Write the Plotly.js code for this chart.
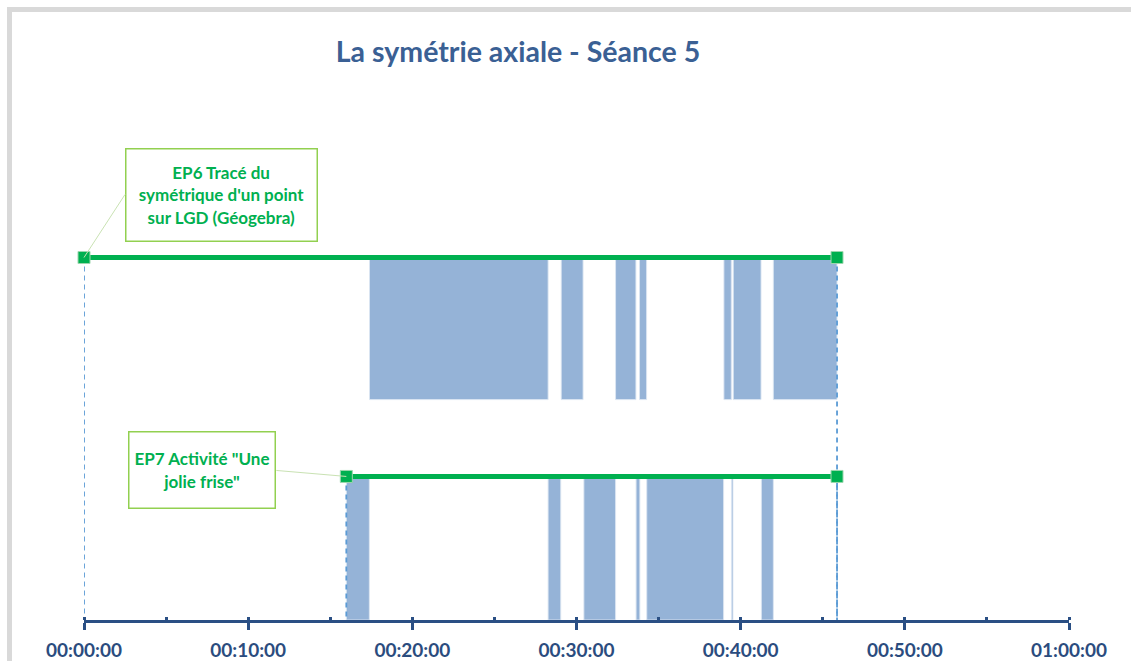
<!DOCTYPE html>
<html>
<head>
<meta charset="utf-8">
<script src="https://cdn.plot.ly/plotly-3.0.1.min.js"></script>
<style>
  html, body { margin: 0; padding: 0; background: #ffffff; }
  #chart { width: 1131px; height: 661px; }
  #frame { position: absolute; left: 7px; top: 7px; width: 1140px; height: 700px;
           border-top: 5px solid #D9D9D9; border-left: 5px solid #D9D9D9; pointer-events: none; }
</style>
</head>
<body>
<div id="chart"></div>
<div id="frame"></div>
<script>
// Times in minutes from session start
const ep6Label = "EP6 Tracé du<br>symétrique d'un point<br>sur LGD (Géogebra)";
const ep7Label = "EP7 Activité \"Une<br>jolie frise\"";
const ep6Span = [0, 45.87];
const ep7Span = [15.98, 45.87];
const ep6Start = [17.39, 29.07, 32.38, 33.84, 38.98, 39.55, 41.99];
const ep6End   = [28.27, 30.40, 33.62, 34.27, 39.43, 41.24, 45.87];
const ep7Start = [15.98, 28.27, 30.45, 33.63, 34.28, 39.44, 41.26];
const ep7End   = [17.38, 29.04, 32.38, 33.86, 38.96, 39.53, 41.99];
const tickVals = [0, 10, 20, 30, 40, 50, 60];
const tickText = ["00:00:00", "00:10:00", "00:20:00", "00:30:00", "00:40:00", "00:50:00", "01:00:00"];

// row geometry (y units)
const row6 = {bottom: 1.52, top: 2.5};
const row7 = {bottom: 0, top: 0.99};

const barFill = '#95B3D7';
const green = '#00B050';
const dashBlue = '#5B9BD5';
const navy = '#2A4F84';

function barTrace(starts, ends, row) {
  const n = starts.length;
  return {
    type: 'bar', orientation: 'h',
    base: starts,
    x: starts.map((s, i) => ends[i] - s),
    y: Array(n).fill((row.bottom + row.top) / 2),
    width: Array(n).fill(row.top - row.bottom),
    marker: {color: barFill, line: {color: 'rgba(220,230,242,0.9)', width: 1}},
    hoverinfo: 'skip', showlegend: false
  };
}
function dashTrace(span, row) {
  return {
    type: 'scatter', mode: 'lines', cliponaxis: false,
    x: [span[0], span[0], null, span[1], span[1]],
    y: [row.top, 0, null, row.top, 0],
    line: {color: dashBlue, width: 1.8, dash: '5px,4px'},
    hoverinfo: 'skip', showlegend: false
  };
}
function spanTrace(span, row) {
  return {
    type: 'scatter', mode: 'lines+markers', cliponaxis: false,
    x: span, y: [row.top, row.top],
    line: {color: green, width: 5},
    marker: {symbol: 'square', size: 12, color: green, line: {color: '#9DD6AE', width: 1}},
    hoverinfo: 'skip', showlegend: false
  };
}

const data = [
  barTrace(ep6Start, ep6End, row6),
  barTrace(ep7Start, ep7End, row7),
  dashTrace(ep6Span, row6),
  dashTrace(ep7Span, row7),
  spanTrace(ep6Span, row6),
  spanTrace(ep7Span, row7)
];

const fontFam = 'Lato, "Open Sans", sans-serif';

const layout = {
  width: 1131, height: 661,
  paper_bgcolor: '#ffffff', plot_bgcolor: '#ffffff',
  margin: {l: 84, r: 62, t: 185, b: 41},
  barmode: 'overlay',
  title: {
    text: '<b>La symétrie axiale - Séance 5</b>',
    font: {family: fontFam, size: 28.5, color: '#3A6094'},
    x: 518 / 1131, xanchor: 'center', xref: 'container',
    y: 1 - 52 / 661, yanchor: 'middle', yref: 'container'
  },
  xaxis: {
    range: [0, 60], showgrid: false, zeroline: false,
    tickmode: 'array', tickvals: tickVals, ticktext: tickText,
    ticks: 'outside', ticklen: 7, tickwidth: 3, tickcolor: navy,
    showline: true, linewidth: 3, linecolor: navy,
    ticklabelstandoff: 4,
    tickfont: {family: fontFam, size: 19, color: '#2B4C7E', weight: 'bold'},
    minor: {dtick: 5, tick0: 0, ticks: 'inside', ticklen: 3, tickwidth: 3, tickcolor: navy, showgrid: false}
  },
  xaxis2: {
    overlaying: 'x', matches: 'x', anchor: 'y', side: 'bottom',
    range: [0, 60], showgrid: false, zeroline: false, showline: false,
    tickmode: 'array', tickvals: tickVals, ticks: 'inside', ticklen: 5, tickwidth: 3, tickcolor: navy,
    showticklabels: false
  },
  yaxis: {range: [0, 3], visible: false, showgrid: false, zeroline: false, fixedrange: true},
  annotations: [
    {
      x: ep6Span[0], y: row6.top, xref: 'x', yref: 'y',
      text: '<b>' + ep6Label + '</b>',
      showarrow: true, arrowhead: 0, arrowwidth: 1, arrowcolor: '#C9E2B3',
      ax: 41, ay: -63, axref: 'pixel', ayref: 'pixel',
      xanchor: 'left', yanchor: 'middle',
      width: 190, height: 91, align: 'center', valign: 'middle',
      bordercolor: '#92D050', borderwidth: 1.5, borderpad: 0, bgcolor: '#ffffff',
      font: {family: fontFam, size: 17, color: green}
    },
    {
      x: ep7Span[0], y: row7.top, xref: 'x', yref: 'y',
      text: '<b>' + ep7Label + '</b>',
      showarrow: true, arrowhead: 0, arrowwidth: 1, arrowcolor: '#C9E2B3',
      ax: -70, ay: -6, axref: 'pixel', ayref: 'pixel',
      xanchor: 'right', yanchor: 'middle',
      width: 145, height: 75, align: 'center', valign: 'middle',
      bordercolor: '#92D050', borderwidth: 1.5, borderpad: 0, bgcolor: '#ffffff',
      font: {family: fontFam, size: 17, color: green}
    }
  ]
};

Plotly.newPlot('chart', data, layout, {staticPlot: true, displayModeBar: false});
</script>
</body>
</html>
